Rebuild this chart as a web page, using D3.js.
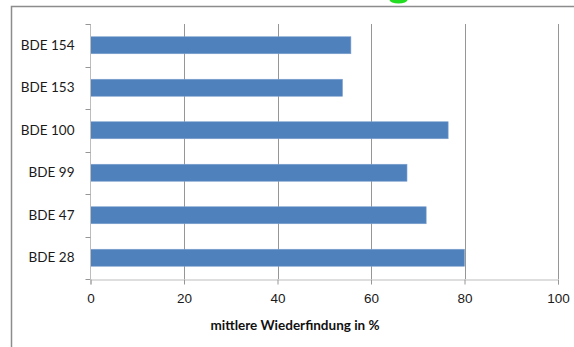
<!DOCTYPE html>
<html>
<head>
<meta charset="utf-8">
<script src="https://cdn.jsdelivr.net/npm/d3@7"></script>
<style>
  html, body { margin: 0; padding: 0; background: #fff; }
  svg { display: block; font-family: Lato, "Open Sans", sans-serif; }
</style>
</head>
<body>
<svg id="chart" width="574" height="347"></svg>
<script>
// Compound names, top to bottom
const categories = ["BDE 154", "BDE 153", "BDE 100", "BDE 99", "BDE 47", "BDE 28"];
// Mean recovery in percent
const recovery = [55.7, 53.9, 76.5, 67.7, 71.8, 80.0];
const xTicks = [0, 20, 40, 60, 80, 100];
const xTitle = "mittlere Wiederfindung in %";

const svg = d3.select("#chart");
const margin = { left: 90.5, right: 16, top: 24, bottom: 68 };
const W = 574, H = 347;

const x = d3.scaleLinear().domain([0, 100]).range([margin.left, W - margin.right]);
const y = d3.scaleBand().domain(categories).range([margin.top, H - margin.bottom])
  .paddingInner(0.6).paddingOuter(0.3);

// outer frame
svg.append("path")
  .attr("d", `M11.5,${H} V6.5 H${W}`)
  .attr("fill", "none").attr("stroke", "#8c8c8c").attr("stroke-width", 1.5);

// green marker partly above the frame
svg.append("ellipse")
  .attr("cx", 398.5).attr("cy", 0).attr("rx", 9).attr("ry", 3.5)
  .attr("fill", "#22dd22");

// vertical gridlines
svg.append("g").selectAll("line")
  .data(xTicks.slice(1))
  .join("line")
  .attr("x1", d => Math.round(x(d)) + 0.5).attr("x2", d => Math.round(x(d)) + 0.5)
  .attr("y1", margin.top).attr("y2", H - margin.bottom)
  .attr("stroke", "#969696").attr("stroke-width", 1);

// bars
svg.append("g").selectAll("rect")
  .data(categories.map((c, i) => ({ c, v: recovery[i] })))
  .join("rect")
  .attr("x", x(0)).attr("y", d => y(d.c))
  .attr("width", d => x(d.v) - x(0)).attr("height", y.bandwidth())
  .attr("fill", "#4f81bd").attr("stroke", "#7ea1cf").attr("stroke-width", 0.6);

// x axis
const xAxis = svg.append("g")
  .attr("transform", `translate(0,${H - margin.bottom + 0.5})`)
  .call(d3.axisBottom(x).tickValues(xTicks).tickSize(5).tickPadding(9));
xAxis.select(".domain").attr("stroke", "#bdbdbd");
xAxis.selectAll(".tick line").attr("stroke", "#969696");
xAxis.selectAll("text").attr("font-size", 13.5).attr("fill", "#1a1a1a");

// y axis with ticks at band boundaries
const yAxis = svg.append("g").attr("transform", `translate(${margin.left},0)`);
yAxis.append("line")
  .attr("x1", 0).attr("x2", 0).attr("y1", margin.top).attr("y2", H - margin.bottom)
  .attr("stroke", "#bdbdbd");
const step = (H - margin.bottom - margin.top) / categories.length;
yAxis.selectAll(".tk")
  .data(d3.range(categories.length + 1))
  .join("line").attr("class", "tk")
  .attr("x1", -5).attr("x2", 0)
  .attr("y1", i => Math.round(margin.top + i * step) + 0.5)
  .attr("y2", i => Math.round(margin.top + i * step) + 0.5)
  .attr("stroke", "#969696");
yAxis.selectAll("text")
  .data(categories)
  .join("text")
  .attr("x", -16).attr("y", d => y(d) + y.bandwidth() / 2)
  .attr("dy", "0.35em").attr("text-anchor", "end")
  .attr("font-size", 13.5).attr("fill", "#1a1a1a")
  .text(d => d);

// axis title
svg.append("text")
  .attr("x", 295).attr("y", 330)
  .attr("text-anchor", "middle").attr("font-size", 13.5).attr("font-weight", "bold")
  .attr("fill", "#111")
  .text(xTitle);
</script>
</body>
</html>
